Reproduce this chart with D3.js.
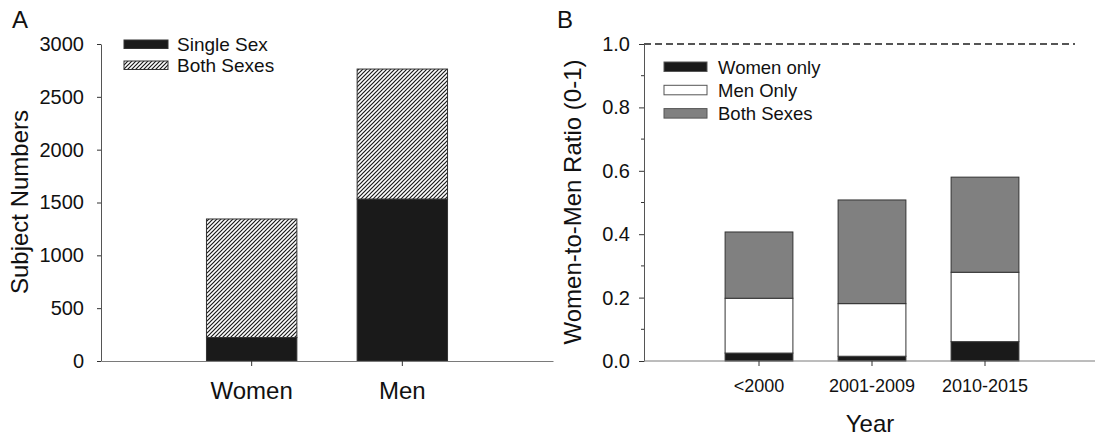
<!DOCTYPE html>
<html>
<head>
<meta charset="utf-8">
<script src="https://cdn.jsdelivr.net/npm/d3@7"></script>
<style>
    body { margin: 0; background: #fff; }
    svg { display: block; font-family: Arial, "Liberation Sans", sans-serif; }
</style>
</head>
<body>
<div id="chart"></div>
<script>
// Panel A data
const sexGroups = ['Women', 'Men'];
const singleSex = [222, 1533];
const bothSexesA = [1122, 1230];   // stacked on top of single sex
const yTicksA = [0, 500, 1000, 1500, 2000, 2500, 3000];

// Panel B data
const yearGroups = ['<2000', '2001-2009', '2010-2015'];
const womenOnly = [0.025, 0.015, 0.061];
const menOnly = [0.173, 0.166, 0.219];
const bothSexesB = [0.209, 0.327, 0.300];
const yTicksB = [0, 0.2, 0.4, 0.6, 0.8, 1.0];
const yMinorB = [0.1, 0.3, 0.5, 0.7, 0.9];

const width = 1095, height = 439;
const black = '#1a1a1a', grey = '#808080', edge = '#333', axisGrey = '#7a7a7a';

const svg = d3.select('#chart').append('svg')
    .attr('width', width)
    .attr('height', height);

// hatch pattern for "Both Sexes" in panel A
const defs = svg.append('defs');
const hatch = defs.append('pattern')
    .attr('id', 'hatch')
    .attr('patternUnits', 'userSpaceOnUse')
    .attr('width', 4)
    .attr('height', 4);
hatch.append('rect').attr('width', 4).attr('height', 4).attr('fill', '#fff');
hatch.append('path')
    .attr('d', 'M-1,1 l2,-2 M0,4 l4,-4 M3,5 l2,-2')
    .attr('stroke', black)
    .attr('stroke-width', 1.2);

// ---------- Panel A ----------
const yA = d3.scaleLinear().domain([0, 3000]).range([361, 44]);
const xA = d3.scaleBand().domain(sexGroups).range([101, 553]).paddingInner(0).paddingOuter(0.5);
const barWA = xA.bandwidth() * 0.6;

const gA = svg.append('g');

const stackA = sexGroups.map((g, i) => ({
    group: g,
    single: singleSex[i],
    both: bothSexesA[i]
}));

gA.selectAll('.single')
    .data(stackA)
    .enter()
    .append('rect')
    .attr('x', d => xA(d.group) + (xA.bandwidth() - barWA) / 2)
    .attr('y', d => yA(d.single))
    .attr('width', barWA)
    .attr('height', d => yA(0) - yA(d.single))
    .attr('fill', black)
    .attr('stroke', edge)
    .attr('stroke-width', 1);

gA.selectAll('.both')
    .data(stackA)
    .enter()
    .append('rect')
    .attr('x', d => xA(d.group) + (xA.bandwidth() - barWA) / 2)
    .attr('y', d => yA(d.single + d.both))
    .attr('width', barWA)
    .attr('height', d => yA(d.single) - yA(d.single + d.both))
    .attr('fill', 'url(#hatch)')
    .attr('stroke', edge)
    .attr('stroke-width', 1);

// y axis A
const axisA = gA.append('g')
    .attr('transform', 'translate(101,0)')
    .call(d3.axisLeft(yA).tickValues(yTicksA).tickFormat(d3.format('d')).tickSize(4).tickSizeOuter(0).tickPadding(13));
axisA.select('.domain').attr('stroke', '#555');
axisA.selectAll('.tick line').attr('stroke', '#333');
axisA.selectAll('text')
    .attr('font-size', 20)
    .attr('fill', '#111')
    .attr('font-family', 'Arial, "Liberation Sans", sans-serif');

// x axis A
const xAxisA = gA.append('g')
    .attr('transform', 'translate(0,361)')
    .call(d3.axisBottom(xA).tickSize(5).tickSizeOuter(0).tickPadding(16));
xAxisA.select('.domain').attr('stroke', axisGrey);
xAxisA.selectAll('.tick line').attr('stroke', '#333');
xAxisA.selectAll('text')
    .attr('font-size', 24)
    .attr('fill', '#111')
    .attr('font-family', 'Arial, "Liberation Sans", sans-serif');

gA.append('text')
    .attr('transform', 'translate(28,202) rotate(-90)')
    .attr('text-anchor', 'middle')
    .attr('font-size', 24)
    .attr('fill', '#111')
    .text('Subject Numbers');

gA.append('text')
    .attr('x', 12).attr('y', 28)
    .attr('font-size', 24)
    .attr('fill', '#111')
    .text('A');

// legend A
const legendA = [
    { label: 'Single Sex', fill: black },
    { label: 'Both Sexes', fill: 'url(#hatch)' }
];
const legA = gA.selectAll('.legA')
    .data(legendA)
    .enter()
    .append('g')
    .attr('transform', (d, i) => `translate(124,${40 + i * 21})`);
legA.append('rect')
    .attr('width', 44).attr('height', 8.5)
    .attr('fill', d => d.fill)
    .attr('stroke', edge)
    .attr('stroke-width', 1);
legA.append('text')
    .attr('x', 53).attr('y', 10.5)
    .attr('font-size', 19)
    .attr('fill', '#111')
    .text(d => d.label);

// ---------- Panel B ----------
const yB = d3.scaleLinear().domain([0, 1]).range([361, 44]);
const xB = d3.scaleBand().domain(yearGroups).range([646, 1098]).paddingInner(0).paddingOuter(0.5);
const barWB = xB.bandwidth() * 0.6;

const gB = svg.append('g');

const seriesB = [
    { key: 'women', values: womenOnly, fill: black },
    { key: 'men', values: menOnly, fill: '#fff' },
    { key: 'both', values: bothSexesB, fill: grey }
];
const rowsB = yearGroups.map((g, i) => ({
    group: g,
    women: womenOnly[i],
    men: menOnly[i],
    both: bothSexesB[i]
}));
const stackedB = d3.stack().keys(seriesB.map(s => s.key))(rowsB);

// reference line at 1.0
gB.append('line')
    .attr('x1', 644).attr('x2', 1075)
    .attr('y1', yB(1)).attr('y2', yB(1))
    .attr('stroke', '#555')
    .attr('stroke-width', 1.8)
    .attr('stroke-dasharray', '7,4');

stackedB.forEach((layer, li) => {
    gB.selectAll('.layer' + li)
        .data(layer)
        .enter()
        .append('rect')
        .attr('x', d => xB(d.data.group) + (xB.bandwidth() - barWB) / 2)
        .attr('y', d => yB(d[1]))
        .attr('width', barWB)
        .attr('height', d => yB(d[0]) - yB(d[1]))
        .attr('fill', seriesB[li].fill)
        .attr('stroke', edge)
        .attr('stroke-width', 1);
});

// y axis B
const axisB = gB.append('g')
    .attr('transform', 'translate(644,0)')
    .call(d3.axisLeft(yB).tickValues(yTicksB).tickFormat(d3.format('.1f')).tickSize(5).tickSizeOuter(0).tickPadding(9));
axisB.select('.domain').attr('stroke', '#555');
axisB.selectAll('.tick line').attr('stroke', '#333');
axisB.selectAll('text')
    .attr('font-size', 20)
    .attr('fill', '#111')
    .attr('font-family', 'Arial, "Liberation Sans", sans-serif');

gB.append('g')
    .selectAll('line')
    .data(yMinorB)
    .enter()
    .append('line')
    .attr('x1', 641).attr('x2', 644)
    .attr('y1', d => yB(d)).attr('y2', d => yB(d))
    .attr('stroke', '#333');

// x axis B
gB.append('line')
    .attr('x1', 644).attr('x2', 1096)
    .attr('y1', 361).attr('y2', 361)
    .attr('stroke', axisGrey);
const xAxisB = gB.append('g')
    .attr('transform', 'translate(0,361)')
    .call(d3.axisBottom(xB).tickSize(5).tickSizeOuter(0).tickPadding(13));
xAxisB.select('.domain').remove();
xAxisB.selectAll('.tick line').attr('stroke', '#333');
xAxisB.selectAll('text')
    .attr('font-size', 18)
    .attr('fill', '#111')
    .attr('font-family', 'Arial, "Liberation Sans", sans-serif');

gB.append('text')
    .attr('transform', 'translate(581,202) rotate(-90)')
    .attr('text-anchor', 'middle')
    .attr('font-size', 24)
    .attr('fill', '#111')
    .text('Women-to-Men Ratio (0-1)');

gB.append('text')
    .attr('x', 870).attr('y', 432)
    .attr('text-anchor', 'middle')
    .attr('font-size', 24)
    .attr('fill', '#111')
    .text('Year');

gB.append('text')
    .attr('x', 557).attr('y', 28)
    .attr('font-size', 24)
    .attr('fill', '#111')
    .text('B');

// legend B
const legendB = [
    { label: 'Women only', fill: black },
    { label: 'Men Only', fill: '#fff' },
    { label: 'Both Sexes', fill: grey }
];
const legB = gB.selectAll('.legB')
    .data(legendB)
    .enter()
    .append('g')
    .attr('transform', (d, i) => `translate(664,${62 + i * 23.3})`);
legB.append('rect')
    .attr('width', 43).attr('height', 9.5)
    .attr('fill', d => d.fill)
    .attr('stroke', '#555')
    .attr('stroke-width', 1);
legB.append('text')
    .attr('x', 54).attr('y', 11.5)
    .attr('font-size', 18.5)
    .attr('fill', '#111')
    .text(d => d.label);
</script>
</body>
</html>
